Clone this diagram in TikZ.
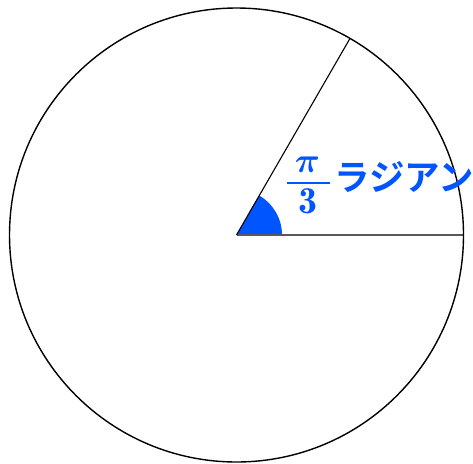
\documentclass[tikz,border=0pt]{standalone}
\usepackage{fontspec}
\usepackage{bm}
\newfontfamily\jpfont{Noto Sans CJK JP}[BoldFont={Noto Sans CJK JP Bold}]
\definecolor{angblue}{HTML}{0055FF}
\begin{document}
\begin{tikzpicture}[x=1pt,y=-1pt,
  rim/.style={draw=black,line width=1.4pt},
  ray/.style={draw=black,line width=1.1pt},
  base/.style={draw=black!65,line width=2pt},
  lbl/.style={text=angblue,inner sep=0pt},
  fracbar/.style={draw=angblue,line width=1.3pt}]
\useasboundingbox (0,0) rectangle (473,463);
\coordinate (O) at (236.5,235);
\coordinate (A) at (350,38.4);
\coordinate (B) at (463.5,235);
\fill[angblue] (O) -- ++(45.5,0) arc[start angle=0,end angle=-60,radius=45.5] -- cycle;
\draw[base] (O) -- (B);
\draw[ray] (O) -- (A);
\draw[rim] (O) circle[radius=227];
\node[lbl,scale=3.5] (num) at (307.5,164.5) {$\bm{\pi}$};
\node[lbl,scale=3.8] (den) at (308,201.5) {$\mathbf{3}$};
\coordinate (barL) at (287,183);
\coordinate (barR) at (330,183);
\draw[fracbar] (barL) -- (barR);
\node[lbl,anchor=west,font=\jpfont\bfseries\fontsize{35.5}{42}\selectfont] (rad) at (334,177) {ラジアン};
\end{tikzpicture}
\end{document}
